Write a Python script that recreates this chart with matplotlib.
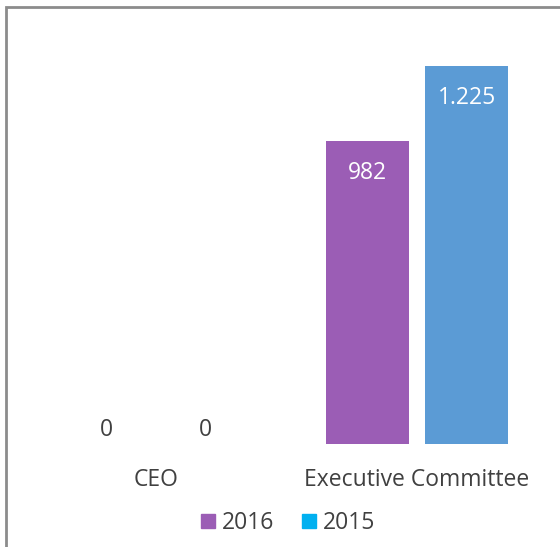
import matplotlib.pyplot as plt
from matplotlib.patches import Rectangle, Patch

categories = ["CEO", "Executive Committee"]
series = ["2016", "2015"]
values_2016 = [0, 982]
values_2015 = [0, 1225]
value_labels_2016 = ["0", "982"]
value_labels_2015 = ["0", "1.225"]

bar_colors = ["#9B5DB5", "#5B9BD5"]
legend_colors = ["#9B5DB5", "#00B0F0"]
text_color = "#404040"

plt.rcParams['font.family'] = ['Open Sans', 'DejaVu Sans']
FS = 16.5

W, H = 560, 547
fig = plt.figure(figsize=(W / 100, H / 100), dpi=100)

# frame around the chart area (cut off on the right and bottom)
fig.patches.append(Rectangle((6 / W, -0.1), 1.2, (H - 7) / H + 0.1,
                             transform=fig.transFigure, fill=False,
                             edgecolor="#8c8c8c", linewidth=2))

# axes placed in pixel units: baseline at y=444, 1 category = 261 px
y0, y1 = 444, 30
ax = fig.add_axes([25.5 / W, (H - y0) / H, 522 / W, (y0 - y1) / H])
ymax = (y0 - y1) / 0.3082
ax.set_ylim(0, ymax)
ax.set_xlim(-0.5, 1.5)

width = 0.315
offset = 0.19
x = range(len(categories))
xs16 = [i - offset for i in x]
xs15 = [i + offset for i in x]
ax.bar(xs16, values_2016, width, color=bar_colors[0])
ax.bar(xs15, values_2015, width, color=bar_colors[1])

px = 72 / 100  # points per pixel
for xs, vals, labs in [(xs16, values_2016, value_labels_2016),
                       (xs15, values_2015, value_labels_2015)]:
    for xi, v, lab in zip(xs, vals, labs):
        if v > 0:
            ax.annotate(lab, (xi, v), xytext=(0, -32 * px), textcoords="offset points",
                        ha="center", va="center", color="white", fontsize=FS)
        else:
            ax.annotate(lab, (xi, v), xytext=(0, 14 * px), textcoords="offset points",
                        ha="center", va="center", color=text_color, fontsize=FS)

ax.set_xticks(list(x))
ax.set_xticklabels(categories, fontsize=FS, color=text_color)
ax.tick_params(axis="x", length=0, pad=17)
ax.set_yticks([])
for s in ax.spines.values():
    s.set_visible(False)

handles = [Patch(color=c, label=l) for c, l in zip(legend_colors, series)]
fig.legend(handles=handles, loc="center", bbox_to_anchor=(288 / W, (H - 523) / H),
           ncol=2, frameon=False, fontsize=FS, handlelength=0.6, handleheight=0.6,
           handletextpad=0.3, columnspacing=1.2, labelcolor=text_color)

fig.savefig("out.png", dpi=100)
